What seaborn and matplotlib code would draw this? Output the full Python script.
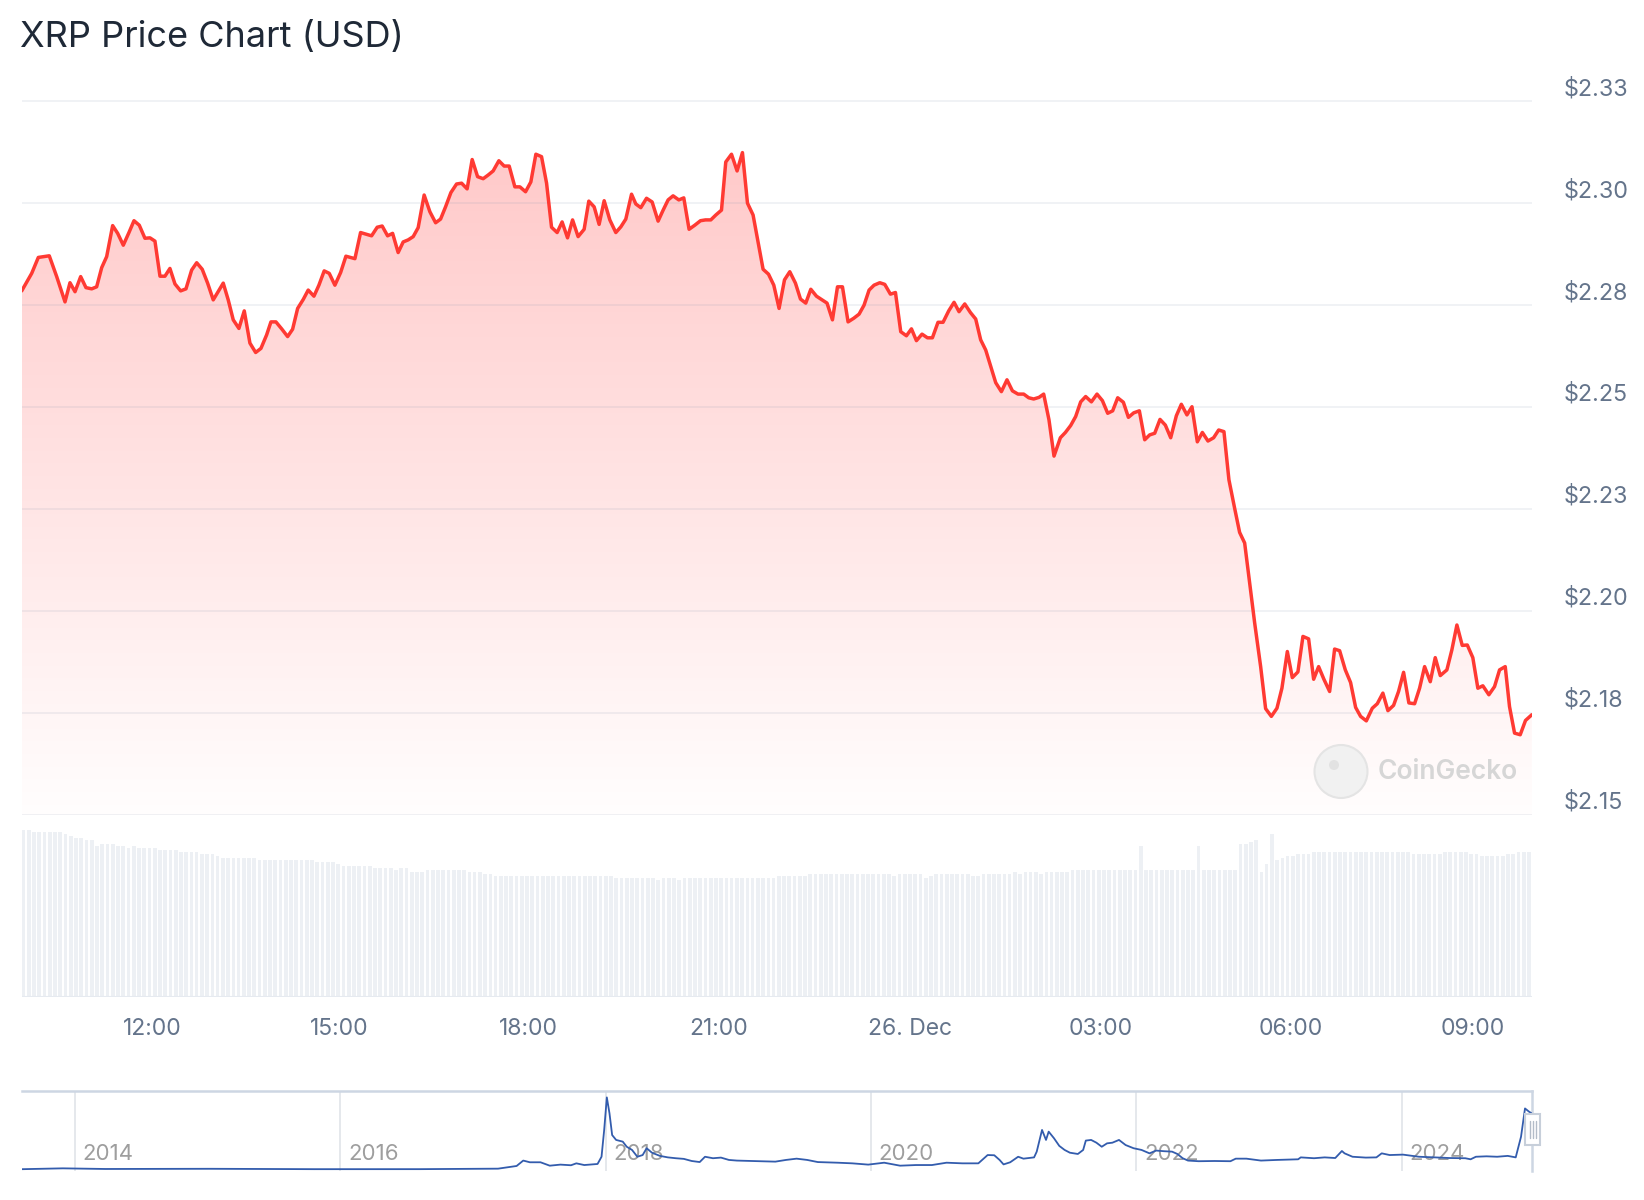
import numpy as np
import pandas as pd
import matplotlib
matplotlib.use("Agg")
import matplotlib.pyplot as plt
import matplotlib.transforms as mtransforms
from matplotlib.patches import PathPatch, Circle, Rectangle
import seaborn as sns

sns.set_theme(style="white")
plt.rcParams["font.family"] = ["Inter", "DejaVu Sans"]

# --- price, 25-26 Dec 2024 (hours counted from 25 Dec 00:00) ---
hours = [
    9.930, 10.089, 10.194, 10.368, 10.486, 10.618, 10.697, 10.777, 10.867, 10.951,
    11.042, 11.121, 11.201, 11.280, 11.375, 11.455, 11.544, 11.634, 11.714, 11.798,
    11.888, 11.968, 12.047, 12.127, 12.206, 12.285, 12.365, 12.455, 12.540, 12.630,
    12.710, 12.798, 12.884, 12.973, 13.132, 13.211, 13.291, 13.381, 13.466, 13.556,
    13.647, 13.731, 13.821, 13.890, 13.969, 14.060, 14.155, 14.234, 14.314, 14.403,
    14.482, 14.573, 14.652, 14.736, 14.816, 14.906, 14.997, 15.081, 15.224, 15.314,
    15.489, 15.578, 15.657, 15.743, 15.823, 15.911, 15.991, 16.070, 16.150, 16.229,
    16.324, 16.415, 16.506, 16.585, 16.664, 16.749, 16.839, 16.919, 17.007, 17.087,
    17.173, 17.262, 17.341, 17.420, 17.511, 17.595, 17.675, 17.765, 17.845, 17.935,
    18.019, 18.099, 18.189, 18.269, 18.348, 18.437, 18.516, 18.602, 18.682, 18.770,
    18.866, 18.940, 19.025, 19.104, 19.184, 19.274, 19.369, 19.449, 19.528, 19.619,
    19.687, 19.766, 19.857, 19.946, 20.041, 20.121, 20.200, 20.279, 20.370, 20.449,
    20.533, 20.624, 20.714, 20.794, 20.878, 20.958, 21.048, 21.116, 21.207, 21.296,
    21.381, 21.461, 21.550, 21.709, 21.795, 21.879, 21.963, 22.049, 22.133, 22.223,
    22.303, 22.387, 22.467, 22.557, 22.646, 22.725, 22.811, 22.891, 22.970, 23.059,
    23.150, 23.234, 23.313, 23.393, 23.472, 23.563, 23.642, 23.732, 23.812, 23.896,
    23.986, 24.066, 24.145, 24.234, 24.320, 24.399, 24.488, 24.568, 24.658, 24.743,
    24.822, 24.913, 25.003, 25.087, 25.166, 25.246, 25.405, 25.495, 25.584, 25.670,
    25.759, 25.850, 25.929, 26.008, 26.093, 26.167, 26.251, 26.331, 26.432, 26.512,
    26.596, 26.675, 26.755, 26.834, 26.925, 27.014, 27.100, 27.184, 27.263, 27.343,
    27.433, 27.513, 27.597, 27.687, 27.772, 27.851, 27.931, 28.015, 28.100, 28.185,
    28.275, 28.354, 28.443, 28.523, 28.608, 28.688, 28.777, 28.867, 28.947, 29.031,
    29.110, 29.201, 29.280, 29.360, 29.439, 29.519, 29.614, 29.693, 29.784, 29.873,
    29.952, 30.038, 30.117, 30.206, 30.286, 30.376, 30.456, 30.535, 30.619, 30.710,
    30.789, 30.869, 30.959, 31.043, 31.123, 31.202, 31.293, 31.388, 31.467, 31.556,
    31.636, 31.726, 31.805, 31.885, 31.969, 32.060, 32.139, 32.219, 32.309, 32.388,
    32.468, 32.573, 32.652, 32.732, 32.817, 32.897, 32.985, 33.065, 33.144, 33.240,
    33.330, 33.410, 33.500, 33.568, 33.648, 33.738, 33.822, 33.922,
]
price = [
    2.2784, 2.2827, 2.2866, 2.2870, 2.2819, 2.2757, 2.2804, 2.2782, 2.2819, 2.2792,
    2.2789, 2.2794, 2.2841, 2.2868, 2.2944, 2.2925, 2.2896, 2.2927, 2.2956, 2.2945,
    2.2913, 2.2914, 2.2906, 2.2820, 2.2820, 2.2839, 2.2801, 2.2784, 2.2789, 2.2835,
    2.2853, 2.2837, 2.2803, 2.2762, 2.2803, 2.2762, 2.2713, 2.2692, 2.2735, 2.2656,
    2.2633, 2.2643, 2.2676, 2.2708, 2.2708, 2.2691, 2.2672, 2.2690, 2.2741, 2.2763,
    2.2786, 2.2771, 2.2798, 2.2833, 2.2827, 2.2798, 2.2829, 2.2869, 2.2863, 2.2927,
    2.2919, 2.2940, 2.2943, 2.2919, 2.2925, 2.2878, 2.2904, 2.2909, 2.2917, 2.2939,
    2.3019, 2.2978, 2.2951, 2.2960, 2.2990, 2.3025, 2.3046, 2.3048, 2.3034, 2.3106,
    2.3064, 2.3059, 2.3068, 2.3078, 2.3103, 2.3090, 2.3090, 2.3039, 2.3039, 2.3027,
    2.3051, 2.3119, 2.3113, 2.3048, 2.2940, 2.2927, 2.2953, 2.2914, 2.2958, 2.2917,
    2.2935, 2.3004, 2.2990, 2.2947, 2.3005, 2.2958, 2.2927, 2.2941, 2.2960, 2.3021,
    2.2997, 2.2988, 2.3011, 2.3002, 2.2955, 2.2982, 2.3007, 2.3017, 2.3007, 2.3012,
    2.2935, 2.2945, 2.2956, 2.2958, 2.2958, 2.2970, 2.2982, 2.3100, 2.3119, 2.3078,
    2.3123, 2.2999, 2.2970, 2.2837, 2.2825, 2.2798, 2.2741, 2.2811, 2.2831, 2.2803,
    2.2764, 2.2754, 2.2788, 2.2771, 2.2762, 2.2754, 2.2713, 2.2794, 2.2794, 2.2708,
    2.2717, 2.2727, 2.2749, 2.2786, 2.2798, 2.2804, 2.2800, 2.2776, 2.2780, 2.2684,
    2.2674, 2.2691, 2.2662, 2.2678, 2.2669, 2.2669, 2.2707, 2.2707, 2.2735, 2.2756,
    2.2733, 2.2752, 2.2731, 2.2715, 2.2664, 2.2639, 2.2559, 2.2537, 2.2566, 2.2539,
    2.2531, 2.2531, 2.2522, 2.2519, 2.2523, 2.2531, 2.2468, 2.2379, 2.2424, 2.2437,
    2.2454, 2.2476, 2.2512, 2.2525, 2.2512, 2.2531, 2.2515, 2.2484, 2.2490, 2.2522,
    2.2511, 2.2474, 2.2485, 2.2490, 2.2419, 2.2431, 2.2435, 2.2469, 2.2455, 2.2424,
    2.2478, 2.2506, 2.2480, 2.2500, 2.2414, 2.2437, 2.2416, 2.2424, 2.2443, 2.2439,
    2.2321, 2.2251, 2.2192, 2.2166, 2.2068, 2.1970, 2.1863, 2.1760, 2.1741, 2.1761,
    2.1810, 2.1900, 2.1836, 2.1850, 2.1937, 2.1931, 2.1832, 2.1863, 2.1832, 2.1802,
    2.1906, 2.1902, 2.1855, 2.1824, 2.1763, 2.1741, 2.1730, 2.1761, 2.1772, 2.1798,
    2.1755, 2.1768, 2.1802, 2.1849, 2.1774, 2.1772, 2.1810, 2.1863, 2.1826, 2.1885,
    2.1841, 2.1855, 2.1904, 2.1965, 2.1915, 2.1916, 2.1885, 2.1810, 2.1816, 2.1794,
    2.1814, 2.1855, 2.1863, 2.1765, 2.1700, 2.1696, 2.1731, 2.1745,
]

# 24h volume (billion USD), one bar every 5 minutes from the first price point
volume = [
    12.50, 12.50, 12.35, 12.35, 12.35, 12.35, 12.35, 12.35, 12.20, 12.05, 11.90, 11.90,
    11.75, 11.75, 11.30, 11.45, 11.45, 11.45, 11.30, 11.30, 11.15, 11.30, 11.15, 11.15,
    11.15, 11.15, 11.00, 11.00, 11.00, 11.00, 10.85, 10.85, 10.85, 10.85, 10.70, 10.70,
    10.70, 10.55, 10.40, 10.40, 10.40, 10.40, 10.40, 10.40, 10.40, 10.25, 10.25, 10.25,
    10.25, 10.25, 10.25, 10.25, 10.25, 10.25, 10.25, 10.25, 10.10, 10.10, 10.10, 10.10,
    9.95, 9.80, 9.80, 9.80, 9.80, 9.80, 9.80, 9.65, 9.65, 9.65, 9.65, 9.50,
    9.65, 9.65, 9.35, 9.35, 9.35, 9.50, 9.50, 9.50, 9.50, 9.50, 9.50, 9.50,
    9.50, 9.35, 9.35, 9.35, 9.20, 9.20, 9.05, 9.05, 9.05, 9.05, 9.05, 9.05,
    9.05, 9.05, 9.05, 9.05, 9.05, 9.05, 9.05, 9.05, 9.05, 9.05, 9.05, 9.05,
    9.05, 9.05, 9.05, 9.05, 9.05, 8.90, 8.90, 8.90, 8.90, 8.90, 8.90, 8.90,
    8.90, 8.75, 8.90, 8.90, 8.90, 8.75, 8.90, 8.90, 8.90, 8.90, 8.90, 8.90,
    8.90, 8.90, 8.90, 8.90, 8.90, 8.90, 8.90, 8.90, 8.90, 8.90, 8.90, 8.90,
    9.05, 9.05, 9.05, 9.05, 9.05, 9.05, 9.20, 9.20, 9.20, 9.20, 9.20, 9.20,
    9.20, 9.20, 9.20, 9.20, 9.20, 9.20, 9.20, 9.20, 9.20, 9.20, 9.05, 9.20,
    9.20, 9.20, 9.20, 9.20, 8.90, 9.05, 9.20, 9.20, 9.20, 9.20, 9.20, 9.20,
    9.20, 9.05, 9.05, 9.20, 9.20, 9.20, 9.20, 9.20, 9.20, 9.35, 9.20, 9.35,
    9.35, 9.35, 9.20, 9.35, 9.35, 9.35, 9.35, 9.35, 9.50, 9.50, 9.50, 9.50,
    9.50, 9.50, 9.50, 9.50, 9.50, 9.50, 9.50, 9.50, 9.50, 11.30, 9.50, 9.50,
    9.50, 9.50, 9.50, 9.50, 9.50, 9.50, 9.50, 9.50, 11.30, 9.50, 9.50, 9.50,
    9.50, 9.50, 9.50, 9.50, 11.45, 11.45, 11.60, 11.75, 9.35, 9.95, 12.20, 10.25,
    10.40, 10.55, 10.55, 10.70, 10.70, 10.70, 10.85, 10.85, 10.85, 10.85, 10.85, 10.85,
    10.85, 10.85, 10.85, 10.85, 10.85, 10.85, 10.85, 10.85, 10.85, 10.85, 10.85, 10.85,
    10.85, 10.70, 10.70, 10.70, 10.70, 10.70, 10.70, 10.85, 10.85, 10.85, 10.85, 10.85,
    10.70, 10.70, 10.55, 10.55, 10.55, 10.55, 10.55, 10.70, 10.70, 10.85, 10.85, 10.85,
    10.85,
]

# all-time history for the navigator (decimal year, USD)
nav_year = [
    2013.60, 2013.91, 2014.23, 2015.02, 2015.81, 2016.60, 2017.19, 2017.33, 2017.38, 2017.43,
    2017.51, 2017.58, 2017.66, 2017.74, 2017.78, 2017.84, 2017.94, 2017.97, 2017.99, 2018.01,
    2018.03, 2018.05, 2018.08, 2018.13, 2018.16, 2018.20, 2018.24, 2018.28, 2018.31, 2018.35,
    2018.41, 2018.47, 2018.53, 2018.59, 2018.65, 2018.71, 2018.75, 2018.81, 2018.87, 2018.93,
    2018.99, 2019.16, 2019.28, 2019.36, 2019.44, 2019.52, 2019.60, 2019.75, 2019.86, 2019.98,
    2020.10, 2020.22, 2020.34, 2020.46, 2020.57, 2020.69, 2020.81, 2020.88, 2020.93, 2020.97,
    2021.00, 2021.05, 2021.11, 2021.15, 2021.23, 2021.25, 2021.29, 2021.32, 2021.34, 2021.38,
    2021.42, 2021.46, 2021.50, 2021.56, 2021.60, 2021.62, 2021.66, 2021.70, 2021.74, 2021.78,
    2021.82, 2021.87, 2021.92, 2021.98, 2022.04, 2022.10, 2022.15, 2022.21, 2022.27, 2022.31,
    2022.35, 2022.39, 2022.47, 2022.59, 2022.71, 2022.75, 2022.83, 2022.94, 2023.06, 2023.22,
    2023.24, 2023.34, 2023.42, 2023.50, 2023.55, 2023.57, 2023.63, 2023.73, 2023.81, 2023.85,
    2023.91, 2024.01, 2024.13, 2024.25, 2024.36, 2024.48, 2024.52, 2024.56, 2024.64, 2024.72,
    2024.80, 2024.86, 2024.90, 2024.93, 2024.96, 2024.98,
]
nav_price = [
    0.005, 0.045, 0.015, 0.024, 0.006, 0.007, 0.030, 0.156, 0.41, 0.33,
    0.33, 0.17, 0.22, 0.19, 0.28, 0.20, 0.25, 0.59, 1.85, 3.38,
    2.63, 1.61, 1.38, 1.30, 1.06, 0.91, 0.59, 0.67, 0.99, 0.78,
    0.63, 0.56, 0.52, 0.49, 0.39, 0.34, 0.59, 0.52, 0.55, 0.44,
    0.41, 0.38, 0.36, 0.44, 0.50, 0.44, 0.34, 0.31, 0.28, 0.22,
    0.31, 0.17, 0.20, 0.20, 0.31, 0.28, 0.28, 0.67, 0.66, 0.44,
    0.23, 0.33, 0.59, 0.50, 0.56, 0.83, 1.85, 1.38, 1.77, 1.46,
    1.10, 0.91, 0.78, 0.72, 0.91, 1.35, 1.38, 1.25, 1.06, 1.22,
    1.25, 1.38, 1.14, 0.99, 0.91, 0.75, 0.88, 0.85, 0.83, 0.72,
    0.52, 0.41, 0.38, 0.39, 0.38, 0.50, 0.50, 0.41, 0.44, 0.47,
    0.56, 0.52, 0.56, 0.53, 0.86, 0.75, 0.59, 0.55, 0.56, 0.75,
    0.67, 0.69, 0.59, 0.56, 0.53, 0.52, 0.47, 0.59, 0.61, 0.59,
    0.63, 0.56, 1.53, 2.86, 2.71, 2.63,
]

price_ticks = [2.15, 2.175, 2.20, 2.225, 2.25, 2.275, 2.30, 2.325]
price_tick_labels = ["$2.15", "$2.18", "$2.20", "$2.23", "$2.25", "$2.28", "$2.30", "$2.33"]
# the source uses an ordinal time axis, so its hour ticks sit slightly unevenly
time_tick_hours = [12.0, 14.97, 17.98, 21.01, 24.05, 27.07, 30.09, 32.99]
time_tick_labels = ["12:00", "15:00", "18:00", "21:00", "26. Dec", "03:00", "06:00", "09:00"]
year_ticks = [2014, 2016, 2018, 2020, 2022, 2024]

W, H = 1644, 1200
fig = plt.figure(figsize=(W / 100, H / 100), dpi=100)
fig.patch.set_facecolor("white")


def box(left, top, right, bottom):
    # pixel box -> figure fraction
    return [left / W, 1 - bottom / H, (right - left) / W, (bottom - top) / H]


LABEL = "#64748b"
RED = "#ff3a33"

day0 = pd.Timestamp("2024-12-25")
df = pd.DataFrame({"time": day0 + pd.to_timedelta(hours, unit="h"), "price": price})
t_start = day0 + pd.Timedelta(hours=hours[0])
t_end = t_start + pd.Timedelta(hours=24)

# ---------- price panel ----------
ax = fig.add_axes(box(21.7, 96.7, 1532.3, 814.7))
y_lo, y_hi = 2.15, 2.326
sns.lineplot(data=df, x="time", y="price", ax=ax, color=RED, linewidth=2.5,
             solid_joinstyle="round", zorder=4)
ax.set_xlim(t_start, t_end)
ax.set_ylim(y_lo, y_hi)

# gradient fill under the line
fill = ax.fill_between(df["time"], df["price"], y_lo, facecolor="none", edgecolor="none")
clip = PathPatch(fill.get_paths()[0], transform=ax.transData, facecolor="none", edgecolor="none")
ax.add_patch(clip)
x0, x1 = ax.get_xlim()
frac = np.clip((np.linspace(y_lo, y_hi, 300) - y_lo) / (2.3125 - y_lo), 0, 1)
top_col = np.array([1.0, 0.79, 0.79])
bot_col = np.array([1.0, 0.995, 0.995])
grad = (bot_col[None, :] * (1 - frac[:, None]) + top_col[None, :] * frac[:, None])[:, None, :]
im = ax.imshow(grad, extent=[x0, x1, y_lo, y_hi], origin="lower", aspect="auto",
               interpolation="bilinear", zorder=1)
im.set_clip_path(clip)
ax.set_xlim(x0, x1)
ax.set_ylim(y_lo, y_hi)

for v in price_ticks:
    ax.axhline(v, color="#8a9ab0", alpha=0.15, lw=1.2, zorder=2)

label_tr = mtransforms.blended_transform_factory(fig.transFigure, ax.transData) + \
    mtransforms.ScaledTranslation(0, 12 / 100, fig.dpi_scale_trans)
for v, lab in zip(price_ticks, price_tick_labels):
    fig.text(1564 / W, v, lab, transform=label_tr, ha="left", va="center",
             fontsize=16.8, color=LABEL)

ax.set_xticks([])
ax.set_yticks([])
ax.set(xlabel="", ylabel="")
sns.despine(ax=ax, left=True, bottom=True)
ax.patch.set_alpha(0)

# ---------- volume panel ----------
axv = fig.add_axes(box(21.7, 820, 1532.3, 997))
bar_times = pd.date_range(t_start, periods=len(volume), freq="5min")
axv.bar(bar_times, volume, width=3.7 / 62.96 / 24, align="edge", color="#edf0f4", linewidth=0)
axv.set_xlim(x0, x1)
axv.set_ylim(0, 13.28)
axv.axhline(0, color="#e6eaf0", lw=1.5)
axv.set_xticks([day0 + pd.Timedelta(hours=h) for h in time_tick_hours])
axv.set_xticklabels(time_tick_labels)
axv.set_yticks([])
axv.tick_params(axis="x", length=13, width=1.5, color="#e6eaf0", labelsize=16.5,
                labelcolor=LABEL, pad=2)
axv.set(xlabel="", ylabel="")
sns.despine(ax=axv, left=True, bottom=True)

# ---------- navigator ----------
axn = fig.add_axes(box(21.7, 1091, 1532.3, 1171))
for yr in year_ticks:
    axn.axvline(yr, color="#e3e6ea", lw=1.3, zorder=0)
sns.lineplot(x=nav_year, y=nav_price, ax=axn, color="#335cad", linewidth=1.3, zorder=3)
axn.set_xlim(2013.60, 2024.985)
axn.set_ylim(-0.08, 3.68)
axn.set_xticks([])
axn.set_yticks([])
axn.set(xlabel="", ylabel="")
for side in ["left", "bottom"]:
    axn.spines[side].set_visible(False)
for side in ["top", "right"]:
    axn.spines[side].set_color("#cdd6e3")
    axn.spines[side].set_linewidth(1.8)
for yr in year_ticks:
    axn.annotate(str(yr), xy=(yr, 1 - 1154 / H), xycoords=("data", "figure fraction"),
                 xytext=(8, 0), textcoords="offset pixels", ha="left", va="center",
                 fontsize=16, color="#9e9e9e", zorder=2)

# ---------- overlay: title, watermark, handle ----------
ov = fig.add_axes([0, 0, 1, 1])
ov.set_xlim(0, W)
ov.set_ylim(H, 0)
ov.axis("off")
ov.patch.set_alpha(0)
ov.text(20, 38, "XRP Price Chart (USD)", fontsize=26, color="#1f2937", ha="left", va="center")

ov.add_patch(Circle((1341, 771.5), 26.5, facecolor="#f1f1f1", edgecolor="#e4e4e4", lw=1.5))
ov.add_patch(Circle((1334, 765), 5, facecolor="#e2e2e2", edgecolor="none"))
ov.text(1378, 772, "CoinGecko", fontsize=19, fontweight="semibold", color="#d6d6d6",
        ha="left", va="center")

ov.add_patch(Rectangle((1525, 1114), 15, 31, facecolor="white", edgecolor="#c7cfda", lw=1.5))
for hx in [1530, 1533, 1536]:
    ov.plot([hx, hx], [1121, 1138], color="#b3bcc8", lw=1)

fig.savefig("out.png", dpi=100, facecolor="white")
